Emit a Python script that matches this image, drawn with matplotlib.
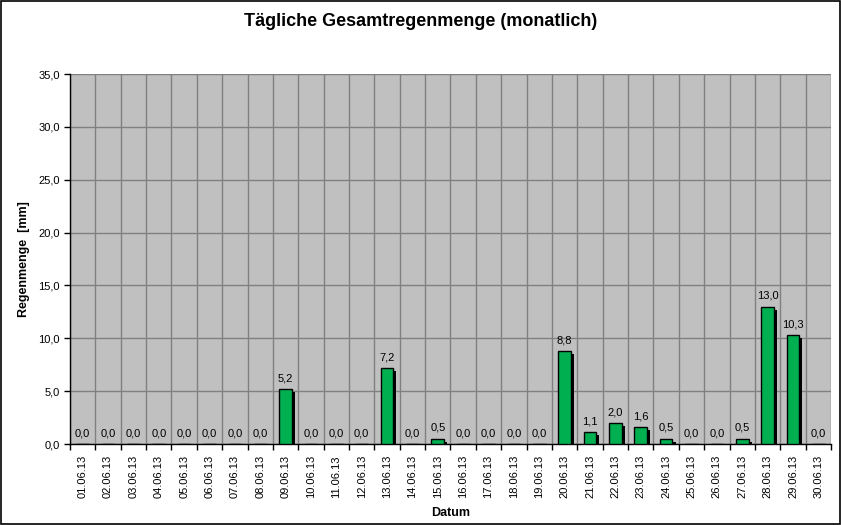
import matplotlib.pyplot as plt
import matplotlib.patheffects as pe
import numpy as np

# daily rainfall June 2013
dates = ["%02d.06.13" % d for d in range(1, 31)]
rain = [0.0, 0.0, 0.0, 0.0, 0.0, 0.0, 0.0, 0.0, 5.2, 0.0,
        0.0, 0.0, 7.2, 0.0, 0.5, 0.0, 0.0, 0.0, 0.0, 8.8,
        1.1, 2.0, 1.6, 0.5, 0.0, 0.0, 0.5, 13.0, 10.3, 0.0]
yticks = [0, 5, 10, 15, 20, 25, 30, 35]

plt.rcParams["font.family"] = ["Liberation Sans", "DejaVu Sans"]

fig = plt.figure(figsize=(8.41, 5.25), dpi=100)
fig.patch.set_facecolor("white")
fig.patches.append(plt.Rectangle((0.0012, 0.002), 0.9976, 0.996, transform=fig.transFigure,
                                 fill=False, edgecolor="black", linewidth=1.2))

ax = fig.add_axes([70 / 841, 1 - 444 / 525, 761 / 841, 370 / 525])
ax.set_facecolor("#c0c0c0")

x = np.arange(len(dates))
shadow = [pe.SimplePatchShadow(offset=(2.2, -2.2), shadow_rgbFace="black", alpha=1.0), pe.Normal()]
bars = ax.bar(x, rain, width=0.5, color="#00b050", edgecolor="black", linewidth=1.0, zorder=3)
for b in bars:
    b.set_path_effects(shadow)

for xi, v in zip(x, rain):
    ax.text(xi, v + 0.55, ("%.1f" % v).replace(".", ","), ha="center", va="bottom",
            fontsize=8, zorder=4)

ax.set_xlim(-0.5, len(dates) - 0.5)
ax.set_ylim(0, 35)
ax.set_yticks(yticks)
ax.set_yticklabels([("%.1f" % t).replace(".", ",") for t in yticks], fontsize=8)
ax.set_xticks(x)
ax.set_xticklabels(dates, rotation=90, fontsize=8)
ax.tick_params(axis="x", length=0, pad=8)
ax.set_xticks(np.arange(-0.5, len(dates)), minor=True)
ax.tick_params(axis="x", which="minor", length=4, direction="out", width=1)
ax.tick_params(axis="y", length=4, direction="out", width=1)

ax.grid(True, axis="y", color="#808080", linewidth=1, zorder=1)
ax.grid(True, axis="x", which="minor", color="#808080", linewidth=1, zorder=1)
ax.grid(False, axis="x", which="major")
ax.set_axisbelow(True)

for s in ["top", "right"]:
    ax.spines[s].set_visible(False)
ax.spines["left"].set_linewidth(1)
ax.spines["bottom"].set_linewidth(1)

ax.set_ylabel("Regenmenge  [mm]", fontsize=9, fontweight="bold", labelpad=6)
ax.set_xlabel("Datum", fontsize=9, fontweight="bold", labelpad=6)
fig.text(0.5, 1 - 22 / 525, "Tägliche Gesamtregenmenge (monatlich)", ha="center", va="center",
         fontsize=13, fontweight="bold")

fig.savefig("out.png", dpi=100)
